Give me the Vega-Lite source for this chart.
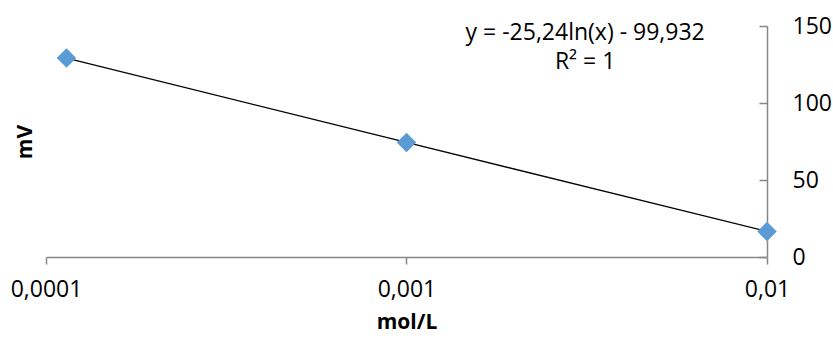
{
  "$schema": "https://vega.github.io/schema/vega-lite/v6.json",
  "width": 721,
  "height": 231,
  "autosize": {"type": "none"},
  "padding": {"left": 46, "top": 26, "right": 66, "bottom": 83},
  "background": "white",
  "config": {
    "view": {"stroke": null},
    "font": "Open Sans",
    "axis": {"grid": false, "labelFont": "Open Sans", "titleFont": "Open Sans", "labelColor": "#000000", "titleColor": "#000000"}
  },
  "datasets": {
    "pts": [
      {"conc": 0.000114, "mv": 129.2},
      {"conc": 0.001, "mv": 74.4},
      {"conc": 0.01, "mv": 16.6}
    ],
    "eq": [
      {"conc": 0.00313, "mv": 145.3, "label": "y = -25,24ln(x) - 99,932"},
      {"conc": 0.00313, "mv": 126.4, "label": "R² = 1"}
    ]
  },
  "layer": [
    {
      "data": {"name": "pts"},
      "mark": {"type": "line", "color": "#000000", "strokeWidth": 1.3},
      "encoding": {
        "x": {
          "field": "conc", "type": "quantitative",
          "scale": {"type": "log", "domain": [0.0001, 0.01], "nice": false},
          "axis": {
            "orient": "bottom", "values": [0.0001, 0.001, 0.01],
            "labelExpr": "datum.value == 0.0001 ? '0,0001' : datum.value == 0.001 ? '0,001' : '0,01'",
            "labelFontSize": 23, "labelPadding": 14, "tickSize": 7, "tickColor": "#878787", "tickWidth": 1.5,
            "domainColor": "#878787", "domainWidth": 1.5,
            "title": "mol/L", "titleFontSize": 21, "titleFontWeight": "bold", "titlePadding": 10,
            "labelFlush": false
          }
        },
        "y": {
          "field": "mv", "type": "quantitative",
          "scale": {"domain": [0, 150], "nice": false},
          "axis": {
            "orient": "left", "labels": false, "ticks": false, "domain": false,
            "title": "mV", "titleFontSize": 21, "titleFontWeight": "bold", "titlePadding": 11
          }
        }
      }
    },
    {
      "data": {"name": "pts"},
      "mark": {"type": "point", "shape": "diamond", "filled": true, "size": 380, "color": "#5B9BD5", "opacity": 1},
      "encoding": {
        "x": {"field": "conc", "type": "quantitative"},
        "y": {
          "field": "mv", "type": "quantitative",
          "axis": {
            "orient": "right", "values": [0, 50, 100, 150], "title": null,
            "labelFontSize": 23, "labelPadding": 33, "tickSize": -8, "tickColor": "#878787", "tickWidth": 1.5,
            "domainColor": "#878787", "domainWidth": 1.5, "labelFlush": false
          }
        }
      }
    },
    {
      "data": {"name": "eq"},
      "mark": {"type": "text", "fontSize": 23, "font": "Open Sans", "color": "#000000", "align": "center", "baseline": "middle"},
      "encoding": {
        "x": {"field": "conc", "type": "quantitative"},
        "y": {"field": "mv", "type": "quantitative", "axis": null},
        "text": {"field": "label"}
      }
    }
  ],
  "resolve": {"axis": {"y": "independent"}}
}
